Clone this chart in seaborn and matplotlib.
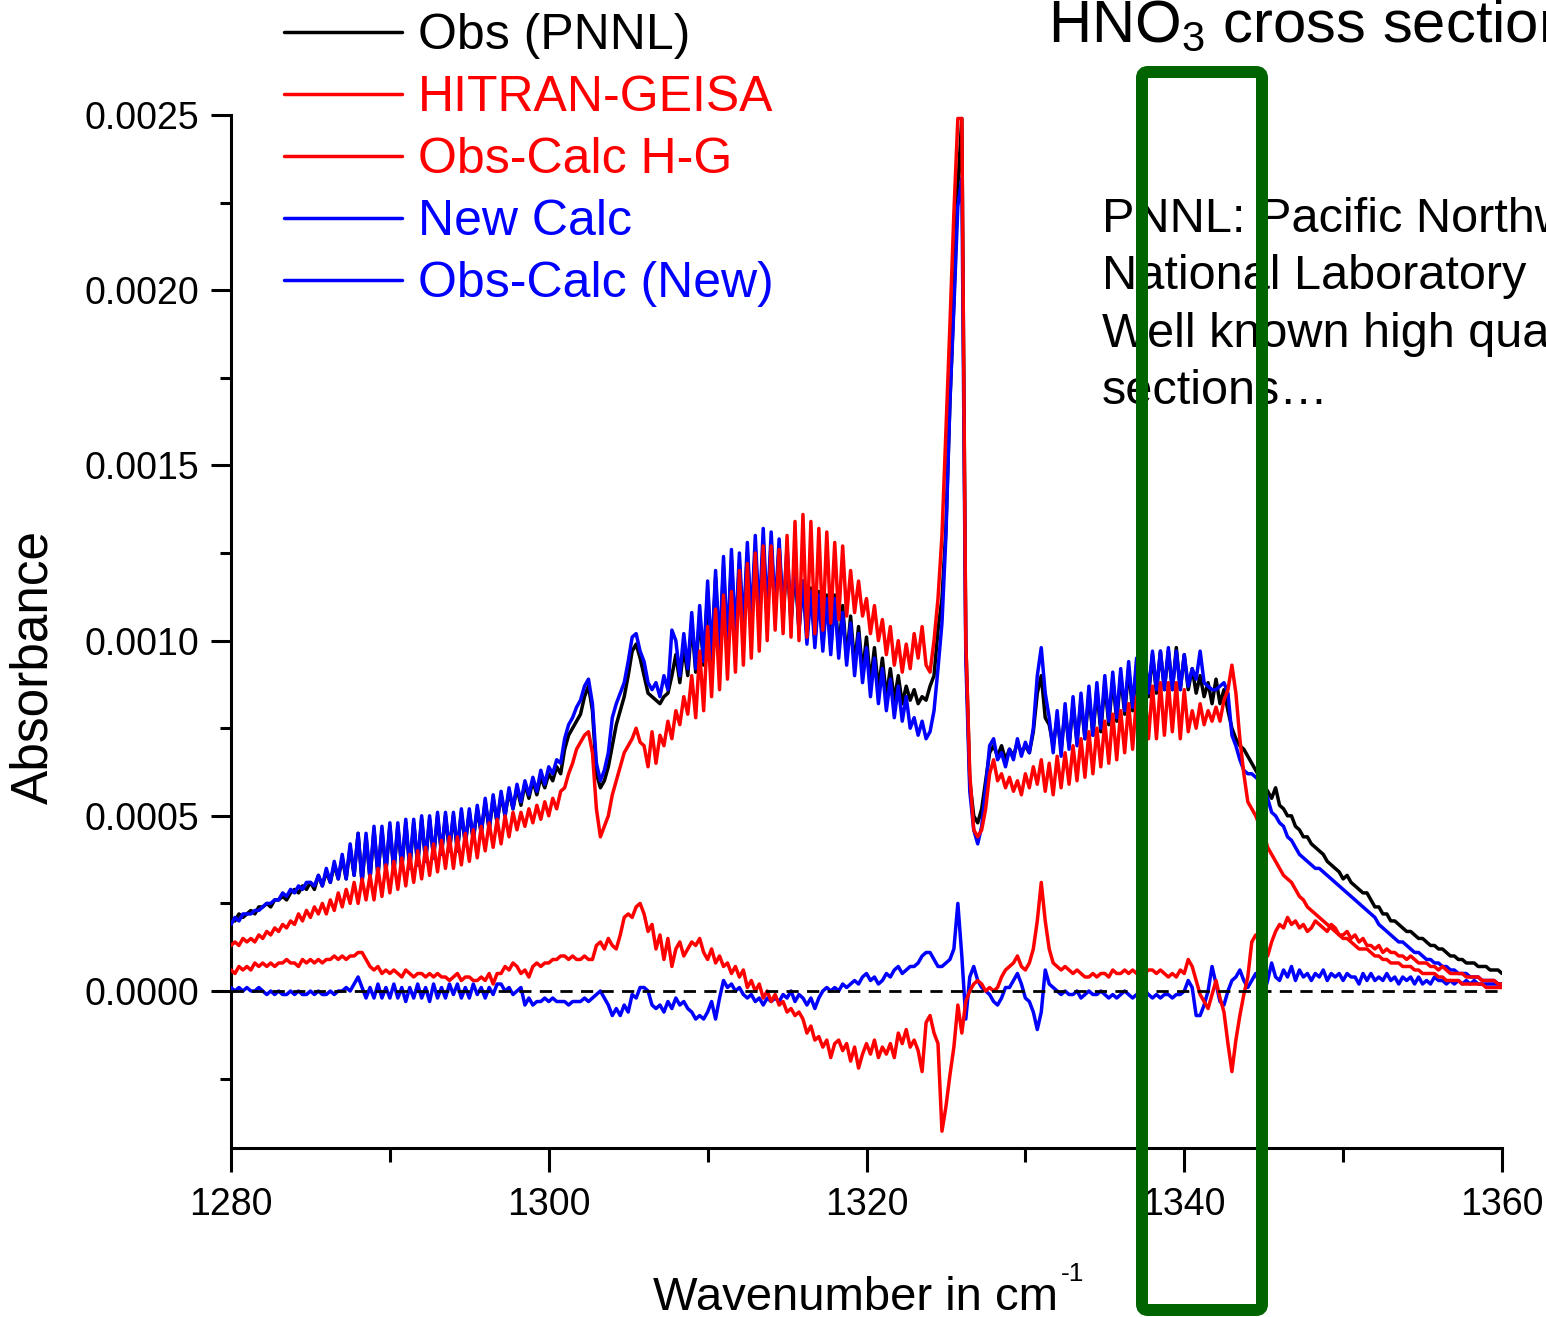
import numpy as np
import pandas as pd
import matplotlib
matplotlib.use("Agg")
import matplotlib.pyplot as plt
import seaborn as sns
from matplotlib.patches import FancyBboxPatch
from matplotlib.transforms import IdentityTransform
from matplotlib.ticker import MultipleLocator, FormatStrFormatter

# ---------------- data (absorbance in units of 1e-5, grid step 0.25 cm-1) ----------------
wavenumber = np.arange(1280.0, 1360.0001, 0.25)
SCALE = 1e-5

obs_pnnl = [
    21,20,22,21, 22,23,22,24, 24,25,24,26, 26,27,26,28, 29,28,30,29, 31,29,33,30,
    34,31,36,32, 38,32,41,33, 45,31,44,32, 46,33,46,34,
    47,34,47,35, 48,35,48,36, 49,37,49,38, 50,39,50,40, 50,40,51,42, 51,43,52,45,
    54,46,55,48, 56,50,57,52, 58,53,59,55, 60,56,61,58,
    62,60,64,62, 69,73,75,77, 79,84,87,80, 62,58,60,64, 70,76,80,84, 90,97,99,95,
    90,85,84,83, 82,84,85,90, 96,88,98,90, 105,91,107,93,
    114,94,118,96, 121,97,123,100, 122,102,125,104, 126,105,128,106, 128,107,127,107,
    124,105,121,103, 117,101,115,100, 114,99,113,98, 113,97,110,95, 107,93,104,91,
    101,88,98,86, 95,84,92,83, 90,82,87,83, 86,82,84,83, 87,90,103,112,
    132,168,197,230, 249,100,60,50, 48,52,60,68, 70,67,70,66, 69,67,71,68,
    70,68,74,85, 90,78,76,70, 78,69,80,70, 82,71,83,72, 85,73,86,74,
    88,76,89,77, 90,79,92,80, 93,82,95,84, 96,85,97,86, 97,86,98,86,
    96,86,92,85, 90,84,88,82, 89,82,86,80, 75,72,70,69, 67,65,63,61,
    59,57,55,58, 53,52,50,50, 47,46,44,44, 42,41,40,39, 37,36,35,34,
    32,33,31,30, 29,28,28,26, 24,24,22,22, 20,20,19,18, 17,17,16,15,
    15,14,13,13, 12,12,11,10, 10,9,9,8, 8,8,7,7, 7,6,6,6,
    5]

hitran_geisa = [
    13,14,13,15, 14,15,14,16, 15,17,16,18, 17,19,18,20, 19,22,20,23, 21,24,22,25,
    22,26,23,28, 24,29,25,31, 25,32,26,33, 26,35,27,36,
    28,37,29,38, 30,39,31,40, 32,41,33,42, 34,43,35,44, 35,44,36,45, 37,46,38,47,
    40,48,41,49, 42,50,44,51, 46,51,47,52, 48,53,49,54,
    50,55,52,57, 58,62,65,69, 71,73,74,68, 52,44,47,50, 56,60,64,68, 70,72,75,71,
    70,64,74,65, 73,70,77,72, 80,76,84,79, 90,78,97,80,
    104,84,109,86, 113,89,114,91, 120,93,122,95, 125,97,127,100, 127,103,126,102,
    130,101,134,100, 136,101,134,102, 132,103,131,105, 128,106,127,107, 120,108,117,107,
    112,102,110,100, 106,96,104,93, 100,91,99,92, 102,95,104,93, 91,100,112,130,
    160,190,222,249, 249,100,62,46, 44,46,52,62, 66,60,62,58, 61,57,60,56,
    62,58,64,59, 66,57,65,56, 67,58,68,59, 70,60,72,61, 74,62,75,64,
    77,65,79,66, 80,68,82,69, 84,70,86,72, 87,72,88,73, 88,74,88,72,
    86,74,80,75, 82,76,80,77, 81,77,83,86, 93,85,72,62, 54,52,50,47,
    45,41,39,37, 35,33,32,31, 29,27,26,24, 23,22,21,20, 19,18,17,16,
    15,15,14,13, 12,12,12,11, 10,10,9,9, 8,8,8,7, 7,7,6,6,
    5,5,5,5, 4,4,3,3, 3,3,2,2, 2,2,2,2, 1,1,1,1,
    1]

obs_calc_hg = [
    6,5,7,6, 7,6,8,7, 8,7,8,7, 8,8,9,8, 8,7,9,8, 9,8,9,8,
    9,9,10,9, 10,9,10,10, 11,11,9,7, 6,7,5,6,
    5,6,5,4, 6,5,4,5, 5,4,5,4, 5,4,4,3, 4,5,3,4, 4,3,3,4,
    3,5,2,5, 5,7,6,8, 7,5,6,4, 7,8,7,8,
    8,9,9,10, 10,9,10,9, 9,10,9,9, 13,14,12,15, 13,12,16,21, 22,21,24,25,
    22,17,19,12, 16,9,15,7, 12,14,10,12, 14,13,15,11,
    9,12,8,10, 7,8,5,7, 4,6,1,3, 0,2,-2,0, -3,-1,-4,-3,
    -6,-5,-7,-6, -8,-12,-10,-14, -13,-16,-14,-19, -15,-14,-17,-15, -20,-16,-22,-18,
    -15,-18,-14,-19, -16,-18,-15,-19, -12,-15,-11,-16, -14,-17,-23,-9, -7,-12,-15,-40,
    -33,-24,-16,-4, -12,-3,0,2, 3,2,0,1, 0,1,4,6, 7,8,10,7,
    6,8,12,20, 31,20,12,8, 7,6,7,6, 5,6,5,4, 4,5,4,5,
    5,4,6,5, 5,6,5,6, 5,6,5,6, 6,5,6,5, 4,5,4,6,
    5,9,7,3, -1,-3,-5,-1, 3,-2,-6,-15, -23,-14,-7,-1, 4,14,16,14,
    12,10,14,17, 19,18,21,19, 20,18,19,17, 18,20,19,18, 17,19,18,16,
    16,17,15,16, 14,15,13,13, 12,13,11,12, 11,11,10,10, 9,10,9,8,
    8,8,7,7, 6,7,6,5, 5,5,5,4, 4,4,4,3, 3,3,3,2,
    2]

new_calc = [
    19,21,20,22, 22,22,23,23, 24,25,25,26, 26,28,27,29, 28,30,29,31, 31,30,33,30,
    35,31,37,32, 39,32,42,33, 45,31,45,32, 47,33,47,34,
    48,34,48,35, 49,35,49,36, 50,37,50,38, 51,39,51,40, 51,40,52,42, 52,43,53,45,
    55,46,56,48, 57,50,58,52, 59,54,60,56, 61,57,63,59,
    64,62,66,65, 72,76,78,81, 83,87,89,82, 65,60,63,68, 78,82,85,88, 94,101,102,97,
    94,88,86,88, 84,90,86,103, 100,90,102,92, 108,92,110,94,
    117,95,120,97, 124,98,126,101, 125,103,128,105, 130,106,132,107, 131,108,129,107,
    127,106,123,103, 117,99,114,98, 113,97,112,96, 112,95,108,93, 105,90,102,88,
    98,84,95,82, 92,80,89,78, 87,77,84,75, 78,73,77,72, 74,80,92,105,
    130,168,195,224, 232,95,57,46, 42,47,58,70, 72,66,68,64, 69,66,72,67,
    71,68,75,90, 98,85,78,68, 80,67,82,69, 84,70,85,72, 87,73,88,75,
    90,77,91,78, 92,80,94,81, 95,83,97,85, 97,86,97,86, 98,86,97,86,
    96,87,92,89, 97,88,87,86, 86,87,88,85, 73,70,66,63, 62,62,61,60,
    58,55,51,50, 48,47,44,43, 41,39,38,37, 36,35,35,34, 33,32,31,30,
    29,28,27,26, 25,24,23,22, 21,19,18,17, 16,15,14,14, 13,12,11,11,
    10,9,9,8, 8,7,7,6, 6,5,5,5, 4,4,4,3, 3,3,3,2,
    2]

obs_calc_new = [
    1,0,1,0, 1,0,0,1, 0,-1,0,-1, 0,-1,-1,0, -1,0,-1,-1, 0,-1,0,-1,
    -1,0,-1,0, 0,1,0,2, 4,1,-2,1, -2,2,-2,1,
    -2,2,-2,1, -3,1,-2,2, -2,1,-3,2, -2,1,-2,2, -1,2,-2,1, -2,2,-1,1,
    -2,1,-1,2, 2,0,1,-1, 0,1,-4,-2, -4,-3,-3,-2,
    -3,-2,-3,-3, -3,-4,-3,-3, -3,-2,-3,-2, -1,0,-2,-4, -7,-5,-7,-4, -6,-1,-2,1,
    1,0,-4,-5, -4,-6,-3,-5, -2,-4,-3,-5, -6,-8,-7,-8,
    -6,-3,-8,-2, 3,1,2,0, 1,-1,-2,-1, -3,-2,-4,-2, -3,-2,-3,-1,
    -2,0,-3,-1, -2,-4,-2,-5, -2,0,1,0, 1,0,2,1, 2,3,2,4,
    5,3,4,2, 3,5,4,6, 7,5,6,7, 7,8,10,11, 11,9,7,7,
    8,9,12,25, 10,-8,4,7, 3,1,0,-1, -3,-4,-2,1, 1,3,5,2,
    -2,-3,-6,-11, -6,6,2,1, 0,-1,0,-1, -1,0,-2,-1, 0,-1,-1,0,
    -1,-2,-1,-2, -1,0,-1,-2, -1,-2,0,-1, -2,-1,-2,-1, -1,-2,-1,-1,
    0,3,1,-7, -7,-4,0,7, 2,-3,-4,0, 3,4,6,3, 1,3,5,2,
    -1,3,8,4, 3,6,4,7, 3,6,4,5, 3,5,4,6, 3,5,4,5,
    3,5,4,4, 2,5,3,5, 3,4,3,5, 3,4,2,4, 3,4,2,4,
    2,3,2,4, 3,3,2,3, 2,3,2,3, 2,3,2,2, 2,2,2,2,
    2]

labels = ["Obs (PNNL)", "HITRAN-GEISA", "Obs-Calc H-G", "New Calc", "Obs-Calc (New)"]

for arr in (obs_pnnl, hitran_geisa, obs_calc_hg, new_calc, obs_calc_new):
    assert len(arr) == len(wavenumber), len(arr)

df = pd.DataFrame({
    "wn": wavenumber,
    "Obs (PNNL)": np.array(obs_pnnl) * SCALE,
    "HITRAN-GEISA": np.array(hitran_geisa) * SCALE,
    "Obs-Calc H-G": np.array(obs_calc_hg) * SCALE,
    "New Calc": np.array(new_calc) * SCALE,
    "Obs-Calc (New)": np.array(obs_calc_new) * SCALE,
})

# ---------------- style ----------------
sns.set_style("ticks")
plt.rcParams['font.family'] = ['Liberation Sans', 'DejaVu Sans']
plt.rcParams['mathtext.fontset'] = 'custom'
plt.rcParams['mathtext.rm'] = 'Liberation Sans'
plt.rcParams['mathtext.it'] = 'Liberation Sans:italic'
plt.rcParams['mathtext.bf'] = 'Liberation Sans:bold'
for k in ["text.color", "axes.labelcolor", "xtick.color", "ytick.color", "axes.edgecolor"]:
    plt.rcParams[k] = "black"

W, H = 1546, 1317
fig = plt.figure(figsize=(W / 100, H / 100), dpi=100)
fig.patch.set_facecolor("white")
ax = fig.add_axes([231 / W, 1 - 1148 / H, (1502 - 231) / W, (1148 - 115) / H])
ax.set_facecolor("white")

LW = 2.5
draw_order = [("Obs (PNNL)", "black", 2), ("New Calc", "blue", 3), ("HITRAN-GEISA", "red", 4),
              ("Obs-Calc (New)", "blue", 3), ("Obs-Calc H-G", "red", 4)]
handles = {}
for name, col, z in draw_order:
    sns.lineplot(data=df, x="wn", y=name, color=col, linewidth=LW, ax=ax,
                 estimator=None, sort=False, zorder=z, label=name, legend=False)
    handles[name] = ax.lines[-1]

ax.axhline(0, color="black", linewidth=2.0, dashes=(4.4, 3.0), zorder=6)

ax.set_xlim(1280, 1360)
ax.set_ylim(-0.000448, 0.0025)
ax.xaxis.set_major_locator(MultipleLocator(20))
ax.xaxis.set_minor_locator(MultipleLocator(10))
ax.yaxis.set_major_locator(MultipleLocator(0.0005))
ax.yaxis.set_minor_locator(MultipleLocator(0.00025))
ax.yaxis.set_major_formatter(FormatStrFormatter("%.4f"))

SPW = 2.2
for s in ["top", "right"]:
    ax.spines[s].set_visible(False)
for s in ["left", "bottom"]:
    ax.spines[s].set_linewidth(SPW)
    ax.spines[s].set_color("black")

ax.tick_params(axis="y", which="major", direction="out", length=14.5, width=SPW,
               labelsize=27, pad=8, colors="black")
ax.tick_params(axis="y", which="minor", direction="out", length=8, width=SPW)
ax.tick_params(axis="x", which="major", direction="out", length=17, width=SPW,
               labelsize=27, pad=11, colors="black")
ax.tick_params(axis="x", which="minor", direction="out", length=10, width=SPW)
ax.set_xlabel("")
ax.set_ylabel("")

# axis labels
fig.text(653 / W, 1 - 1310 / H, "Wavenumber in cm", fontsize=34,
         ha="left", va="baseline", color="black")
fig.text(1061 / W, 1 - 1281 / H, "-1", fontsize=19,
         ha="left", va="baseline", color="black")
fig.text(34 / W, 1 - 667 / H, "Absorbance", fontsize=37, rotation=90,
         ha="center", va="center", color="black")

# legend
ax.legend(handles=[handles[n] for n in labels], labels=labels,
          loc="upper left", bbox_to_anchor=(284 / W, 1 - 13 / H),
          bbox_transform=fig.transFigure, frameon=False, fontsize=36,
          handlelength=2.36, handletextpad=0.32, labelspacing=0.32,
          borderpad=0, borderaxespad=0, labelcolor="linecolor")

# title and annotation text
fig.text(1048 / W, 1 - 42 / H, "HNO$_3$ cross sections", fontsize=43,
         ha="left", va="baseline", color="black")
note_lines = ["PNNL: Pacific Northwest", "National Laboratory",
              "Well known high quality cross", "sections\u2026"]
for i, line in enumerate(note_lines):
    fig.text(1102 / W, 1 - (232 + 57.4 * i) / H, line, fontsize=35,
             ha="left", va="baseline", color="black")

# green highlight box
box = FancyBboxPatch((1142, H - 1310), 1262 - 1142, 1310 - 72,
                     boxstyle="round,pad=0,rounding_size=6",
                     transform=IdentityTransform(), fill=False,
                     edgecolor="#006400", linewidth=12 * 72 / 100, zorder=20)
fig.add_artist(box)

fig.savefig("out.png", dpi=100, facecolor="white")
